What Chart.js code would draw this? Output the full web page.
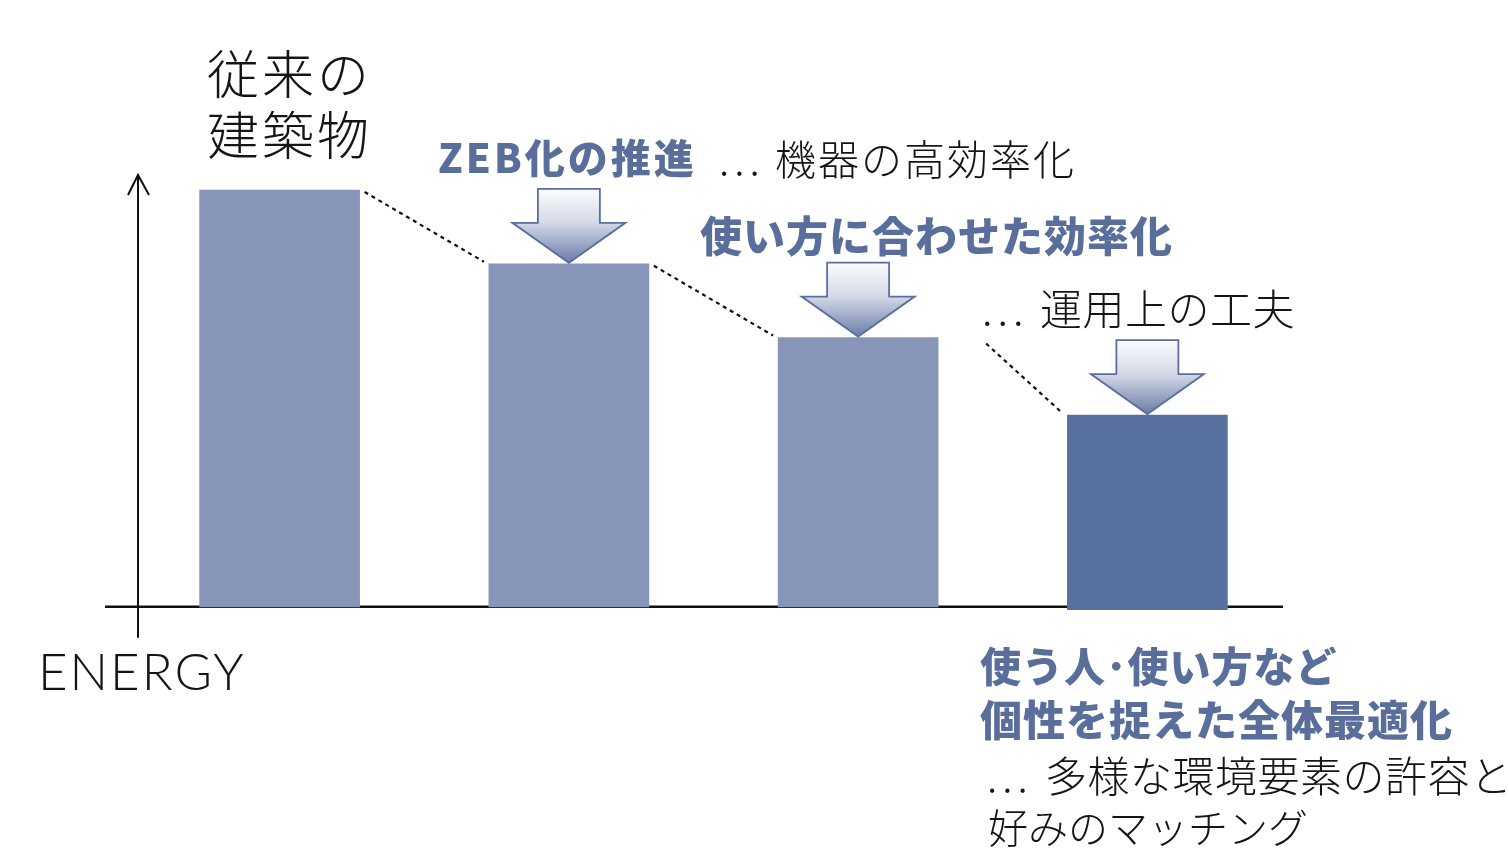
<!DOCTYPE html>
<html>
<head>
<meta charset="utf-8">
<script src="https://cdn.jsdelivr.net/npm/chart.js@4"></script>
<style>
  body { margin: 0; background: #fff; }
  #wrap { width: 1509px; height: 855px; }
</style>
</head>
<body>
<div id="wrap"><canvas id="energyChart" width="1509" height="855"></canvas></div>
<script>
  // data
  const categories = ['従来の建築物', 'ZEB化の推進', '使い方に合わせた効率化', '全体最適化'];
  const energyValues = [100, 82.3, 64.6, 46.0];
  const barBase = [0, 0, 0, -0.7];
  const barColors = ['#8795b8', '#8795b8', '#8795b8', '#58709e'];

  const BLUE = '#5a6e9c';
  const INK = '#151515';
  const JP = '"Noto Sans CJK JP", "Noto Sans", sans-serif';

  // annotation texts (x = left edge, y = middle, sp = letter spacing)
  const notes = [
    { text: '従来の', x: 207, y: 74, size: 52, weight: 300, color: INK, sp: 3 },
    { text: '建築物', x: 207, y: 135, size: 52, weight: 300, color: INK, sp: 3 },
    { text: 'ZEB化の推進', x: 438, y: 158, size: 40, weight: 900, color: BLUE, sp: 3 },
    { text: '...', x: 719, y: 159, size: 41, weight: 300, color: INK, sp: 5 },
    { text: '機器の高効率化', x: 775, y: 159, size: 41, weight: 300, color: INK, sp: 2 },
    { text: '使い方に合わせた効率化', x: 700, y: 236, size: 42, weight: 900, color: BLUE, sp: 1 },
    { text: '...', x: 982, y: 309, size: 42, weight: 300, color: INK, sp: 5 },
    { text: '運用上の工夫', x: 1040, y: 309, size: 42, weight: 300, color: INK, sp: 0.5 },
    { text: '使う人･使い方など', x: 980, y: 666, size: 41, weight: 900, color: BLUE, sp: 1 },
    { text: '個性を捉えた全体最適化', x: 980, y: 720, size: 42, weight: 900, color: BLUE, sp: 1 },
    { text: '...', x: 987, y: 776, size: 41, weight: 300, color: INK, sp: 5 },
    { text: '多様な環境要素の許容と', x: 1045, y: 776, size: 42, weight: 300, color: INK, sp: 0.5 },
    { text: '好みのマッチング', x: 988, y: 828, size: 40, weight: 300, color: INK, sp: 0 },
    { text: 'ENERGY', x: 38, y: 674, size: 51, weight: 300, color: INK, sp: 2, font: 'Lato, "Open Sans", sans-serif' }
  ];

  function drawArrow(ctx, cx, tipY) {
    const shaftW = 62, shaftH = 34, headW = 113, headH = 40;
    const top = tipY - headH - shaftH;
    const g = ctx.createLinearGradient(0, top, 0, tipY);
    g.addColorStop(0, '#fbfcfe');
    g.addColorStop(0.45, '#d5dae8');
    g.addColorStop(1, '#6a7ca8');
    ctx.beginPath();
    ctx.moveTo(cx - shaftW / 2, top);
    ctx.lineTo(cx + shaftW / 2, top);
    ctx.lineTo(cx + shaftW / 2, top + shaftH);
    ctx.lineTo(cx + headW / 2, top + shaftH);
    ctx.lineTo(cx, tipY);
    ctx.lineTo(cx - headW / 2, top + shaftH);
    ctx.lineTo(cx - shaftW / 2, top + shaftH);
    ctx.closePath();
    ctx.fillStyle = g;
    ctx.fill();
    ctx.lineWidth = 1.8;
    ctx.strokeStyle = '#5b6f9e';
    ctx.stroke();
  }

  const axesPlugin = {
    id: 'axesPlugin',
    beforeDatasetsDraw(chart) {
      const ctx = chart.ctx;
      const area = chart.chartArea;
      const y0 = chart.scales.y.getPixelForValue(0);
      const ax = area.left + 3;
      ctx.save();
      ctx.strokeStyle = '#111';
      ctx.lineWidth = 2.5;
      ctx.beginPath();
      ctx.moveTo(105, y0);
      ctx.lineTo(area.right - 9, y0);
      ctx.stroke();
      ctx.lineWidth = 2;
      ctx.beginPath();
      ctx.moveTo(ax, y0 + 31);
      ctx.lineTo(ax, area.top + 1);
      ctx.moveTo(ax - 10, area.top + 20);
      ctx.lineTo(ax, area.top);
      ctx.lineTo(ax + 11, area.top + 20);
      ctx.stroke();
      ctx.restore();
    },
    afterDatasetsDraw(chart) {
      const ctx = chart.ctx;
      const bars = chart.getDatasetMeta(0).data;
      ctx.save();
      // dotted connectors between bar tops
      ctx.strokeStyle = '#111';
      ctx.lineWidth = 2.2;
      ctx.setLineDash([4, 4]);
      const startInset = [5, 5, 48];
      const startDrop = [2, 2, 6];
      for (let i = 0; i < bars.length - 1; i++) {
        const a = bars[i], b = bars[i + 1];
        ctx.beginPath();
        ctx.moveTo(a.x + a.width / 2 + startInset[i], a.y + startDrop[i]);
        ctx.lineTo(b.x - b.width / 2 - 5, b.y - 2);
        ctx.stroke();
      }
      ctx.setLineDash([]);
      // arrows onto bars 2..4
      for (let i = 1; i < bars.length; i++) {
        drawArrow(ctx, bars[i].x, bars[i].y - 1);
      }
      // texts
      ctx.textBaseline = 'middle';
      ctx.textAlign = 'left';
      notes.forEach(n => {
        ctx.font = n.weight + ' ' + n.size + 'px ' + (n.font || JP);
        ctx.letterSpacing = n.sp + 'px';
        ctx.fillStyle = n.color;
        ctx.fillText(n.text, n.x, n.y);
      });
      ctx.letterSpacing = '0px';
      ctx.restore();
    }
  };

  window.addEventListener('DOMContentLoaded', () => {
    const ctx = document.getElementById('energyChart').getContext('2d');
    new Chart(ctx, {
      type: 'bar',
      data: {
        labels: categories,
        datasets: [{
          label: 'ENERGY',
          data: energyValues.map((v, i) => [barBase[i], v]),
          backgroundColor: barColors,
          borderWidth: 0,
          barThickness: 160
        }]
      },
      options: {
        responsive: false,
        animation: false,
        layout: { padding: { left: 135, right: 217, top: 175, bottom: 244 } },
        plugins: {
          legend: { display: false },
          tooltip: { enabled: false }
        },
        scales: {
          x: { display: false },
          y: { display: false, min: -1, max: 103.6 }
        }
      },
      plugins: [axesPlugin]
    });
  });
</script>
</body>
</html>
